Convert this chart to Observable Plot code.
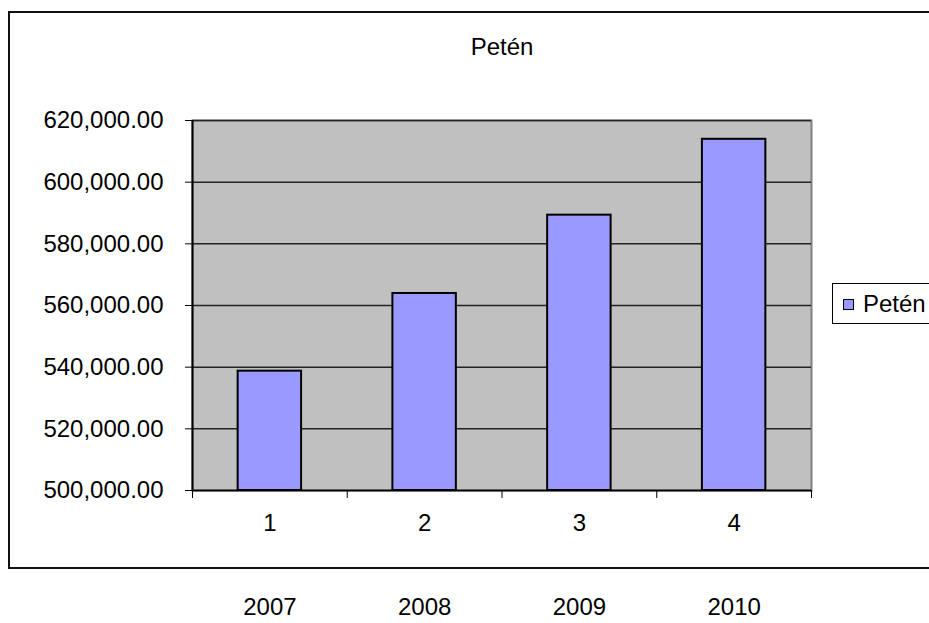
<!DOCTYPE html>
<html>
<head>
<meta charset="utf-8">
<script src="https://cdn.jsdelivr.net/npm/d3@7"></script>
<script src="https://cdn.jsdelivr.net/npm/@observablehq/plot@0.6"></script>
<style>
  html, body { margin: 0; padding: 0; background: #fff; }
  #wrap { position: relative; width: 929px; height: 623px; overflow: hidden; font-family: "Liberation Sans", Arial, sans-serif; }
  #frame { position: absolute; left: 8px; top: 11px; width: 940px; height: 558px; border: 2px solid #111; box-sizing: border-box; pointer-events: none; }
  #legend { position: absolute; left: 832px; top: 283px; width: 120px; height: 41px; border: 1px solid #000; box-sizing: border-box; background: #fff; font-size: 24px; }
  #legend .sw { position: absolute; left: 10px; top: 15px; width: 11px; height: 11px; background: #9999FF; border: 1px solid #000; box-sizing: border-box; }
  #legend .lb { position: absolute; left: 30px; top: 6px; line-height: 28px; }
  #chart { position: absolute; left: 0; top: 0; }
</style>
</head>
<body>
<div id="wrap">
  <div id="chart"></div>
  <div id="frame"></div>
  <div id="legend"><div class="sw"></div><div class="lb">Petén</div></div>
</div>
<script>
const title = "Petén";
const seriesName = "Petén";
const categories = [1, 2, 3, 4];
const values = [538700, 563900, 589300, 613900];
const years = ["2007", "2008", "2009", "2010"];
const yTicks = [500000, 520000, 540000, 560000, 580000, 600000, 620000];

const data = categories.map((c, i) => ({cat: c, value: values[i], year: years[i]}));
const boundaries = categories.map(c => c - 0.5).concat([categories[categories.length - 1] + 0.5]);
const halfBar = 0.205;

const chart = Plot.plot({
  width: 929,
  height: 623,
  marginLeft: 192,
  marginRight: 118,
  marginTop: 120,
  marginBottom: 133,
  style: { fontFamily: "'Liberation Sans', Arial, sans-serif", fontSize: "24px", color: "#000", background: "transparent", overflow: "visible" },
  x: { domain: [0.5, 4.5] },
  y: { domain: [500000, 620000] },
  marks: [
    Plot.frame({ fill: "#C0C0C0", stroke: "#808080", strokeWidth: 2 }),
    Plot.ruleY(yTicks, { stroke: "#222", strokeWidth: 1.5 }),
    Plot.rectY(data, { x1: d => d.cat - halfBar, x2: d => d.cat + halfBar, y1: yTicks[0], y2: "value", fill: "#9999FF", stroke: "#000", strokeWidth: 2 }),
    Plot.ruleX([0.5], { stroke: "#000", strokeWidth: 2 }),
    Plot.ruleY([yTicks[0]], { stroke: "#000", strokeWidth: 1.5 }),
    Plot.axisY({ ticks: yTicks, tickFormat: d3.format(",.2f"), tickSize: 7, tickPadding: 22, stroke: "#000", label: null, fontSize: 24 }),
    Plot.axisX({ ticks: boundaries, tickFormat: () => "", tickSize: 8, stroke: "#000", label: null }),
    Plot.axisX({ ticks: categories, tickFormat: d => String(d), tickSize: 0, tickPadding: 23, label: null, fontSize: 24 }),
    Plot.text(data, { x: "cat", text: "year", frameAnchor: "bottom", lineAnchor: "middle", dy: 117, fontSize: 24, fill: "#000" }),
    Plot.text([title], { frameAnchor: "top", lineAnchor: "middle", dy: -73, fontSize: 24, fill: "#000" })
  ]
});
document.getElementById("chart").appendChild(chart);
</script>
</body>
</html>
